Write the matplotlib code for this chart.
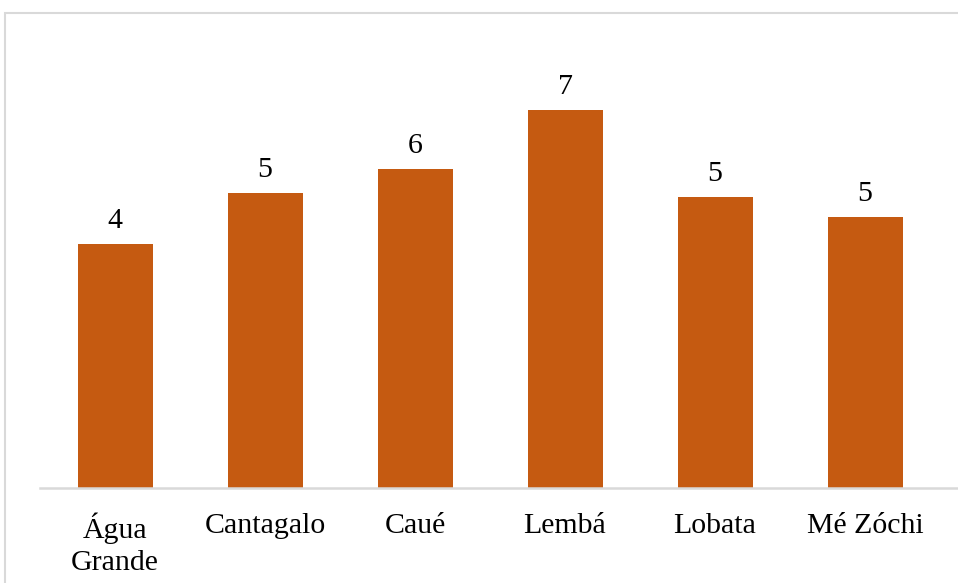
import matplotlib.pyplot as plt
from matplotlib.patches import Rectangle
import numpy as np

districts = ['Água\nGrande', 'Cantagalo', 'Caué', 'Lembá', 'Lobata', 'Mé Zóchi']
values = [4.36, 5.27, 5.70, 6.75, 5.20, 4.84]

plt.rcParams['font.family'] = ['Liberation Serif', 'DejaVu Serif']

fig = plt.figure(figsize=(9.58, 5.83), dpi=100)
# light chart frame (right/bottom edges fall outside the picture)
fig.patches.append(Rectangle((5 / 958, -0.1), 1.2, 1 - 13 / 583 + 0.1,
                             transform=fig.transFigure, fill=False,
                             edgecolor='#d9d9d9', linewidth=1.5))

ax = fig.add_axes([40 / 958, 95 / 583, 918 / 958, 448 / 583])
x = np.arange(len(districts))
bars = ax.bar(x, values, width=0.5, color='#C55A11')

for b, v in zip(bars, values):
    ax.text(b.get_x() + b.get_width() / 2, v + 0.18, f'{v:.0f}',
            ha='center', va='bottom', fontsize=21.5)

ax.set_xlim(-0.5, 5.62)
ax.set_ylim(0, 8)
ax.set_xticks(x)
ax.set_xticklabels(districts, fontsize=21.5, linespacing=1.3)
ax.tick_params(axis='x', length=0, pad=18)
ax.set_yticks([])
for s in ['top', 'right', 'left']:
    ax.spines[s].set_visible(False)
ax.spines['bottom'].set_color('#d9d9d9')
ax.spines['bottom'].set_linewidth(1.8)
ax.patch.set_alpha(0)

fig.savefig('out.png', dpi=100)
